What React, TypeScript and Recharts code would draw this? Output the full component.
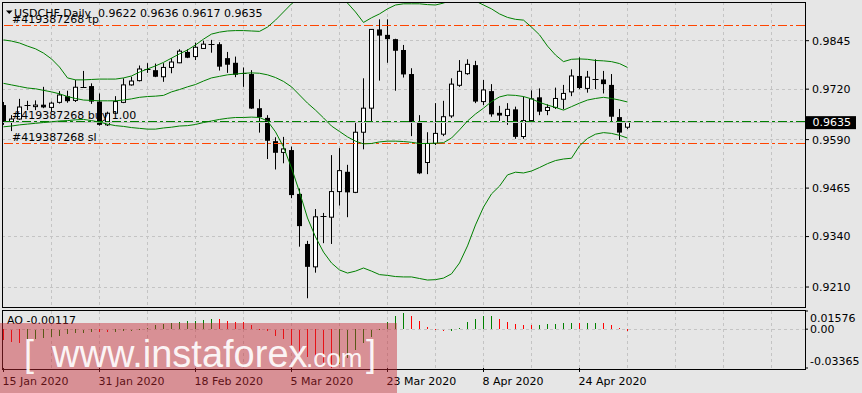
import React from "react";
import { ComposedChart, Bar, Line, XAxis, YAxis, CartesianGrid, ReferenceLine } from "recharts";

const symbolTitle = "USDCHF,Daily";
const orderId = "#419387268";

const dateLabels = ["15 Jan 2020", "31 Jan 2020", "18 Feb 2020", "5 Mar 2020", "23 Mar 2020", "8 Apr 2020", "24 Apr 2020"];
const dateLabelBars = [0, 12, 24, 36, 48, 60, 72];
const gridBars = [0, 6, 12, 18, 24, 30, 36, 42, 48, 54, 60, 66, 72, 78, 84, 90, 96];
const priceTicks = [0.921, 0.934, 0.9465, 0.959, 0.972, 0.9845];
const aoTicks = [-0.03365, 0, 0.01576];

const takeProfit = 0.9883;
const stopLoss = 0.9579;
const buyPrice = 0.9636;
const bidPrice = 0.9635;

const opens = [
  0.9679, 0.9635, 0.9643, 0.9677, 0.9675, 0.968, 0.9673, 0.9686, 0.9702, 0.9691,
  0.9726, 0.9728, 0.9688, 0.9628, 0.9658, 0.9686, 0.9731, 0.9742, 0.9769, 0.9769,
  0.9752, 0.9776, 0.9788, 0.9816, 0.9804, 0.9825, 0.9836, 0.9836, 0.98, 0.9788,
  0.9762, 0.9759, 0.9671, 0.9646, 0.9586, 0.9557, 0.9563, 0.945, 0.9321, 0.9262,
  0.9391, 0.939, 0.9456, 0.9507, 0.9454, 0.9609, 0.9671, 0.9874, 0.986, 0.9849,
  0.9821, 0.9759, 0.9635, 0.9531, 0.958, 0.9604, 0.9651, 0.973, 0.976, 0.9782,
  0.9688, 0.9715, 0.9659, 0.9652, 0.9668, 0.9598, 0.9639, 0.9699, 0.9665, 0.9673,
  0.9694, 0.9713, 0.9754, 0.9722, 0.9746, 0.9745, 0.9731, 0.9648, 0.9622,
];
const highs = [
  0.9687, 0.9653, 0.9695, 0.969, 0.9691, 0.9726, 0.9688, 0.9715, 0.9716, 0.9744,
  0.9767, 0.9735, 0.9709, 0.9662, 0.9702, 0.9748, 0.9752, 0.9781, 0.9787, 0.9786,
  0.9787, 0.98, 0.9823, 0.9823, 0.984, 0.9845, 0.9847, 0.9841, 0.9816, 0.9804,
  0.9776, 0.9769, 0.9694, 0.9653, 0.9596, 0.9597, 0.9572, 0.9464, 0.9329, 0.9411,
  0.9401, 0.955, 0.9568, 0.9525, 0.9636, 0.9748, 0.9875, 0.99, 0.99, 0.985,
  0.9834, 0.9774, 0.9653, 0.9609, 0.9684, 0.969, 0.9748, 0.9795, 0.9797, 0.9793,
  0.9744, 0.9733, 0.9677, 0.9684, 0.9675, 0.9701, 0.9717, 0.9722, 0.9681, 0.9724,
  0.9731, 0.9771, 0.9802, 0.9767, 0.9797, 0.9767, 0.9759, 0.9669, 0.9636,
];
const lows = [
  0.9628, 0.9612, 0.9641, 0.9666, 0.9666, 0.9671, 0.9662, 0.9683, 0.9685, 0.9687,
  0.9724, 0.9682, 0.9626, 0.9625, 0.9656, 0.9684, 0.9729, 0.974, 0.9762, 0.9751,
  0.9739, 0.9761, 0.9787, 0.98, 0.9795, 0.9825, 0.9814, 0.9768, 0.9762, 0.9751,
  0.9726, 0.9669, 0.9608, 0.954, 0.9513, 0.9529, 0.9439, 0.9314, 0.9181, 0.9247,
  0.9323, 0.9321, 0.942, 0.939, 0.9452, 0.9565, 0.9636, 0.9742, 0.9788, 0.9716,
  0.975, 0.9599, 0.9501, 0.9501, 0.9576, 0.9599, 0.9646, 0.9726, 0.9757, 0.9684,
  0.9679, 0.9649, 0.9638, 0.9628, 0.9592, 0.9592, 0.9636, 0.9653, 0.9653, 0.9669,
  0.9668, 0.9702, 0.972, 0.9711, 0.972, 0.9709, 0.9636, 0.9589, 0.9617,
];
const closes = [
  0.9633, 0.9643, 0.9674, 0.9678, 0.9679, 0.9673, 0.9684, 0.9705, 0.9689, 0.9725,
  0.9725, 0.9688, 0.9628, 0.9658, 0.9688, 0.9731, 0.9741, 0.9772, 0.9771, 0.9752,
  0.9776, 0.979, 0.9818, 0.9801, 0.9828, 0.9836, 0.9835, 0.9778, 0.9783, 0.9757,
  0.9761, 0.967, 0.9648, 0.9587, 0.9556, 0.9566, 0.9447, 0.9367, 0.9262, 0.9391,
  0.9392, 0.9456, 0.951, 0.9454, 0.9609, 0.9671, 0.9874, 0.9858, 0.9849, 0.9819,
  0.9758, 0.9634, 0.9503, 0.958, 0.9606, 0.9649, 0.9733, 0.9766, 0.9784, 0.9688,
  0.9718, 0.9655, 0.9652, 0.9668, 0.9597, 0.9639, 0.9695, 0.9662, 0.9673, 0.9696,
  0.9709, 0.9754, 0.9723, 0.9751, 0.9745, 0.9733, 0.9649, 0.9608, 0.9635,
];

// Bollinger bands
const bbUpper = [
  0.9847, 0.9844, 0.9839, 0.9831, 0.9824, 0.9813, 0.9798, 0.9777, 0.9749, 0.9744,
  0.9744, 0.9745, 0.9746, 0.9746, 0.9746, 0.9749, 0.9754, 0.9764, 0.9772, 0.978,
  0.9789, 0.98, 0.9811, 0.9821, 0.9834, 0.9849, 0.9862, 0.9867, 0.987, 0.9871,
  0.9871, 0.987, 0.9869, 0.988, 0.9898, 0.9919, 0.994, 0.9955, 0.9981, 0.9983,
  0.9976, 0.9968, 0.996, 0.9942, 0.9919, 0.9892, 0.9904, 0.9914, 0.9927, 0.9937,
  0.994, 0.994, 0.994, 0.9938, 0.9937, 0.9942, 0.995, 0.9958, 0.9955, 0.9947,
  0.9937, 0.9927, 0.9914, 0.9905, 0.99, 0.9898, 0.988, 0.986, 0.9831, 0.9808,
  0.9791, 0.9797, 0.9798, 0.9797, 0.9794, 0.9793, 0.9791, 0.9786, 0.9776,
];
const bbMiddle = [
  0.9735, 0.9731, 0.9727, 0.9723, 0.9721, 0.9717, 0.9713, 0.9708, 0.9701, 0.9696,
  0.9692, 0.9691, 0.969, 0.969, 0.969, 0.9692, 0.9695, 0.9699, 0.9701, 0.9702,
  0.9704, 0.9713, 0.9719, 0.9726, 0.9732, 0.9741, 0.9749, 0.9753, 0.9757, 0.9759,
  0.9761, 0.9762, 0.9761, 0.9757, 0.975, 0.974, 0.9726, 0.9705, 0.9684, 0.9666,
  0.9646, 0.9625, 0.9611, 0.9597, 0.9586, 0.9579, 0.958, 0.9584, 0.9586, 0.9586,
  0.9585, 0.9583, 0.958, 0.958, 0.9581, 0.9582, 0.9594, 0.9615, 0.9638, 0.9656,
  0.9671, 0.9688, 0.97, 0.9705, 0.9704, 0.9701, 0.9695, 0.9686, 0.9679, 0.9673,
  0.9666, 0.9675, 0.9684, 0.9692, 0.9696, 0.9699, 0.9696, 0.9692, 0.9687,
];
const bbLower = [
  0.9623, 0.9625, 0.9628, 0.963, 0.9632, 0.9634, 0.9636, 0.9638, 0.9639, 0.9641,
  0.9642, 0.9639, 0.9635, 0.963, 0.9626, 0.9624, 0.9621, 0.9619, 0.9617, 0.9617,
  0.962, 0.9622, 0.9625, 0.9626, 0.9629, 0.9634, 0.9638, 0.9642, 0.9645, 0.9647,
  0.9647, 0.9648, 0.9647, 0.9638, 0.961, 0.9571, 0.9517, 0.9455, 0.9388, 0.9339,
  0.93, 0.9272, 0.9254, 0.9246, 0.9251, 0.9259, 0.9251, 0.9242, 0.924, 0.9237,
  0.9236, 0.9236, 0.9232, 0.9228, 0.9229, 0.9233, 0.9244, 0.9272, 0.9316, 0.937,
  0.9416, 0.945, 0.947, 0.9499, 0.9506, 0.9504, 0.9509, 0.9518, 0.9528, 0.9536,
  0.954, 0.9542, 0.9574, 0.9593, 0.9604, 0.9608, 0.9606, 0.9601, 0.9594,
];

// Awesome Oscillator
const aoValues = [
  -0.0098, -0.0107, -0.0116, -0.0098, -0.0087, -0.0078, -0.0069, -0.0055, -0.0043, -0.0035,
  -0.0029, -0.0024, -0.0026, -0.0028, -0.0025, -0.002, -0.0014, -0.0006, 0.0012, 0.004,
  0.0049, 0.0055, 0.0064, 0.0072, 0.0075, 0.0077, 0.0086, 0.0084, 0.0075, 0.0066,
  0.0064, 0.0035, 0.0003, -0.0012, -0.0058, -0.0087, -0.0136, -0.0194, -0.0237, -0.0266,
  -0.03, -0.0336, -0.03, -0.0251, -0.0179, -0.0121, -0.0064, -0.0006, 0.0058, 0.011,
  0.014, 0.0118, 0.0075, 0.0023, -0.0003, -0.002, -0.0012, 0.0012, 0.0061, 0.009,
  0.011, 0.0115, 0.0092, 0.0064, 0.0046, 0.0038, 0.0036, 0.0038, 0.0043, 0.0046,
  0.0055, 0.0056, 0.0055, 0.0056, 0.0057, 0.0054, 0.004, 0.0014, -0.00117,
];

const X_DOMAIN = [-0.1875, 100.1875];
const Y_DOMAIN = [0.91585, 0.99447];
const AO_DOMAIN = [-0.03365, 0.01576];

const FONT = "'DejaVu Sans', sans-serif";
const BG = "#e6e6e6";
const GRID = "#c4c4c4";
const BAND = "#008000";
const ORDER_RED = "#ff4500";
const DASH_DOT = "9 3 3 3";

const rows = opens.map((open, i) => ({
  i,
  open,
  high: highs[i],
  low: lows[i],
  close: closes[i],
  bbUp: bbUpper[i],
  bbMid: bbMiddle[i],
  bbLow: bbLower[i],
  ao: aoValues[i],
  aoColor: i > 0 && aoValues[i] > aoValues[i - 1] ? "#008000" : "#ff0000",
}));

function Candle(props: any) {
  const { x, y, width, height, payload } = props;
  if (x == null || payload == null) return null;
  const top = Math.min(y, y + height);
  const h = Math.abs(height);
  const cx = Math.round(x + width / 2 - 0.5) + 0.5;
  const span = payload.high - payload.low || 1;
  const toY = (p: number) => top + ((payload.high - p) / span) * h;
  const yo = toY(payload.open);
  const yc = toY(payload.close);
  const bTop = Math.min(yo, yc);
  const bBot = Math.max(yo, yc);
  const bull = payload.close >= payload.open;
  let body;
  if (bBot - bTop < 1.2) {
    const yy = Math.round(bTop) + 0.5;
    body = <line x1={cx - 3} x2={cx + 3} y1={yy} y2={yy} stroke="#000" />;
  } else if (bull) {
    body = <rect x={cx - 2} y={bTop} width={4} height={bBot - bTop} fill="#fff" stroke="#000" />;
  } else {
    body = <rect x={cx - 2.5} y={bTop} width={5} height={bBot - bTop} fill="#000" />;
  }
  return (
    <g>
      <line x1={cx} x2={cx} y1={top} y2={top + h} stroke="#000" />
      {body}
    </g>
  );
}

function AoBar(props: any) {
  const { x, y, width, height, payload } = props;
  if (x == null || payload == null) return null;
  const top = Math.min(y, y + height);
  const h = Math.max(Math.abs(height), 1);
  const cx = Math.round(x + width / 2 - 0.5);
  return <rect x={cx} y={top} width={1} height={h} fill={payload.aoColor} shapeRendering="crispEdges" />;
}

function OrderTag(props: any) {
  const vb = props.viewBox || {};
  return (
    <text x={(vb.x || 0) + 10} y={(vb.y || 0) - 2.5} fontSize={11} fontFamily={FONT} fill="#000">
      {props.text}
    </text>
  );
}

function PriceTag(props: any) {
  const vb = props.viewBox || {};
  const right = (vb.x || 0) + (vb.width || 0);
  const yy = vb.y || 0;
  return (
    <g>
      <rect x={right + 1} y={yy - 6} width={50} height={13} fill="#000" />
      <text x={right + 7.5} y={yy} dy="0.36em" fontSize={11} fontFamily={FONT} fill="#fff">
        {bidPrice.toFixed(4)}
      </text>
    </g>
  );
}

function AoTick(props: any) {
  const { x, y, payload } = props;
  const v = payload.value;
  const label = v === 0 ? "0.00" : v.toFixed(5);
  const dy = v > 0 ? 7.5 : v < 0 ? -6.5 : 0;
  return (
    <text x={x} y={y + dy} dy="0.36em" fontSize={11} fontFamily={FONT} fill="#000">
      {label}
    </text>
  );
}

function DateTick(props: any) {
  const { x, y, payload } = props;
  const k = dateLabelBars.indexOf(payload.value);
  return (
    <text x={x - 1} y={y + 11} fontSize={11} fontFamily={FONT} fill="#000">
      {k >= 0 ? dateLabels[k] : ""}
    </text>
  );
}

export default function App() {
  const last = rows[rows.length - 1];
  const title = `${symbolTitle}  ${last.open.toFixed(4)} ${last.high.toFixed(4)} ${last.low.toFixed(4)} ${last.close.toFixed(4)}`;
  return (
    <div style={{ position: "relative", width: 862, height: 393, background: BG, overflow: "hidden" }}>
      <style>{`body{margin:0}`}</style>

      <div style={{ position: "absolute", left: 0, top: 0 }}>
        <ComposedChart width={862} height={310} data={rows} margin={{ top: 2, right: 0, bottom: 3, left: 2 }}>
          <XAxis type="number" dataKey="i" domain={X_DOMAIN} ticks={gridBars} allowDataOverflow hide />
          <YAxis
            orientation="right"
            type="number"
            width={57}
            domain={Y_DOMAIN}
            allowDataOverflow
            ticks={priceTicks}
            interval={0}
            tickSize={4}
            tickMargin={3}
            axisLine={false}
            tickLine={{ stroke: "#000" }}
            tick={{ fontSize: 11, fontFamily: FONT, fill: "#000" }}
            tickFormatter={(v: number) => v.toFixed(4)}
          />
          <CartesianGrid stroke={GRID} strokeDasharray="3 3" shapeRendering="crispEdges" />
          <ReferenceLine y={bidPrice} stroke="#c0c0c0" shapeRendering="crispEdges" label={(p: any) => <PriceTag {...p} />} />
          <ReferenceLine
            y={buyPrice}
            stroke={BAND}
            strokeDasharray={DASH_DOT}
            shapeRendering="crispEdges"
            label={(p: any) => <OrderTag {...p} text={`${orderId} buy 1.00`} />}
          />
          <ReferenceLine
            y={takeProfit}
            stroke={ORDER_RED}
            strokeDasharray={DASH_DOT}
            shapeRendering="crispEdges"
            label={(p: any) => <OrderTag {...p} text={`${orderId} tp`} />}
          />
          <ReferenceLine
            y={stopLoss}
            stroke={ORDER_RED}
            strokeDasharray={DASH_DOT}
            shapeRendering="crispEdges"
            label={(p: any) => <OrderTag {...p} text={`${orderId} sl`} />}
          />
          <Bar dataKey={(d: any) => [d.low, d.high]} barSize={5} shape={<Candle />} isAnimationActive={false} />
          <Line dataKey="bbUp" stroke={BAND} strokeWidth={1} dot={false} activeDot={false} isAnimationActive={false} />
          <Line dataKey="bbMid" stroke={BAND} strokeWidth={1} dot={false} activeDot={false} isAnimationActive={false} />
          <Line dataKey="bbLow" stroke={BAND} strokeWidth={1} dot={false} activeDot={false} isAnimationActive={false} />
        </ComposedChart>
      </div>

      <div style={{ position: "absolute", left: 0, top: 300 }}>
        <ComposedChart width={862} height={93} data={rows} margin={{ top: 11, right: 0, bottom: 0, left: 2 }}>
          <XAxis xAxisId="g" type="number" dataKey="i" domain={X_DOMAIN} ticks={gridBars} allowDataOverflow hide />
          <XAxis
            xAxisId="d"
            type="number"
            dataKey="i"
            domain={X_DOMAIN}
            ticks={dateLabelBars}
            interval={0}
            allowDataOverflow
            height={25}
            tickSize={4}
            tickMargin={2}
            axisLine={false}
            tickLine={{ stroke: "#000" }}
            tick={<DateTick />}
          />
          <YAxis
            orientation="right"
            type="number"
            width={57}
            domain={AO_DOMAIN}
            allowDataOverflow
            ticks={aoTicks}
            interval={0}
            tickSize={3}
            tickMargin={2}
            axisLine={false}
            tickLine={{ stroke: "#000" }}
            tick={<AoTick />}
          />
          <CartesianGrid xAxisId="g" stroke={GRID} strokeDasharray="3 3" horizontal={false} shapeRendering="crispEdges" />
          <ReferenceLine xAxisId="d" y={0} stroke={GRID} strokeDasharray="3 3" shapeRendering="crispEdges" />
          <Bar xAxisId="d" dataKey="ao" barSize={1} shape={<AoBar />} isAnimationActive={false} />
        </ComposedChart>
      </div>

      <div style={{ position: "absolute", left: 2, top: 2, width: 804, height: 306, border: "1px solid #000", boxSizing: "border-box", pointerEvents: "none" }} />
      <div style={{ position: "absolute", left: 2, top: 310, width: 804, height: 60, border: "1px solid #000", boxSizing: "border-box", pointerEvents: "none" }} />

      <svg width={862} height={393} style={{ position: "absolute", left: 0, top: 0, pointerEvents: "none" }}>
        <polygon points="6,10.5 12.5,10.5 9.25,14" fill="#000" />
        <text x={14} y={16.7} fontSize={11} fontFamily={FONT} fill="#000" style={{ whiteSpace: "pre" }}>
          {title}
        </text>
        <text x={7} y={324} fontSize={11} fontFamily={FONT} fill="#000">
          {`AO ${last.ao.toFixed(5)}`}
        </text>
        <rect x={0} y={323} width={397} height={70} fill="rgba(200,40,50,0.45)" />
        <g fill="#fff" fillOpacity={0.92} fontFamily="'Liberation Sans', Arial, sans-serif">
          <text x={24} y={366} fontSize={36}>[</text>
          <text x={52} y={367} fontSize={38}>www.instaforex</text>
          <text x={306} y={367} fontSize={26}>.com</text>
          <text x={366} y={366} fontSize={36}>]</text>
        </g>
      </svg>
    </div>
  );
}
